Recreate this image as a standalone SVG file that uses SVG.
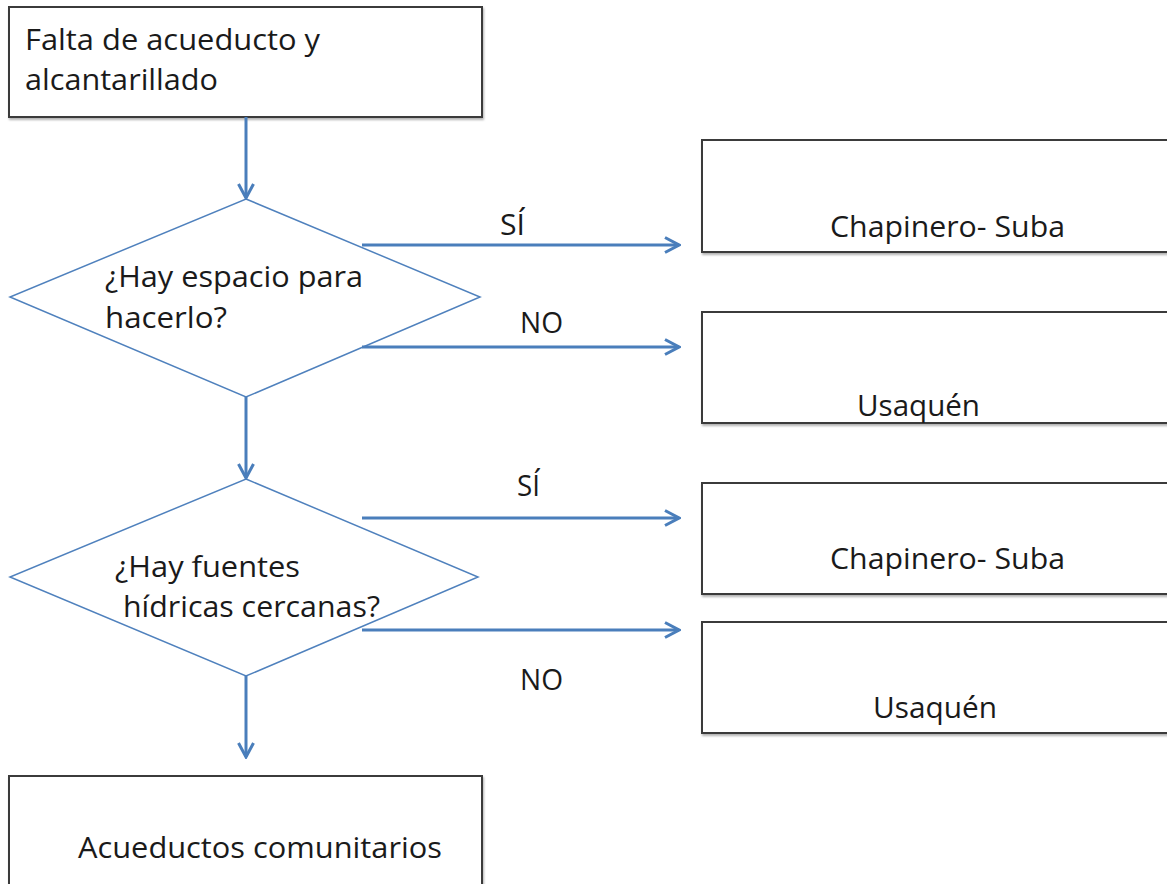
<svg xmlns="http://www.w3.org/2000/svg" width="1167" height="884" viewBox="0 0 1167 884">
<style>
.box{fill:#ffffff;stroke:#3a3a3a;stroke-width:2}
.dia{fill:#ffffff;stroke:#4f81bd;stroke-width:1.5}
.con{fill:none;stroke:#4a7ebb;stroke-width:3;marker-end:url(#arr)}
.t{font-family:"Open Sans","Noto Sans","Liberation Sans",sans-serif;font-size:29px;fill:#1a1a1a}
</style>
<defs>
<filter id="sh" x="-5%" y="-5%" width="110%" height="115%">
<feDropShadow dx="1" dy="2" stdDeviation="1.2" flood-color="#000" flood-opacity="0.3"/>
</filter>
<marker id="arr" markerUnits="userSpaceOnUse" viewBox="0 0 18 18" refX="16" refY="9" markerWidth="18" markerHeight="18" orient="auto">
<path d="M2,1.5 L16,9 L2,16.5" fill="none" stroke="#4a7ebb" stroke-width="3" stroke-linejoin="miter"/>
</marker>
</defs>
<rect width="1167" height="884" fill="#ffffff"/>

<g id="start">
<rect class="box" filter="url(#sh)" x="9" y="7" width="473" height="110"/>
<text class="t" x="25" y="50" textLength="295" lengthAdjust="spacingAndGlyphs">Falta de acueducto y</text>
<text class="t" x="25" y="90" textLength="193" lengthAdjust="spacingAndGlyphs">alcantarillado</text>
</g>

<g id="decision1">
<polygon class="dia" points="246,199 480,297 246,397 10,297"/>
<text class="t" x="105" y="287" textLength="258" lengthAdjust="spacingAndGlyphs">¿Hay espacio para</text>
<text class="t" x="105" y="328" textLength="122" lengthAdjust="spacingAndGlyphs">hacerlo?</text>
</g>

<g id="yes1">
<rect class="box" filter="url(#sh)" x="702" y="140" width="480" height="112"/>
<text class="t" x="830" y="237" textLength="235" lengthAdjust="spacingAndGlyphs">Chapinero- Suba</text>
</g>

<g id="no1">
<rect class="box" filter="url(#sh)" x="702" y="312" width="480" height="111"/>
<text class="t" x="857" y="416" textLength="123" lengthAdjust="spacingAndGlyphs">Usaquén</text>
</g>

<g id="decision2">
<polygon class="dia" points="246,479 478,577 246,676 10,577"/>
<text class="t" x="115" y="577" textLength="185" lengthAdjust="spacingAndGlyphs">¿Hay fuentes</text>
<text class="t" x="123" y="617" textLength="257" lengthAdjust="spacingAndGlyphs">hídricas cercanas?</text>
</g>

<g id="yes2">
<rect class="box" filter="url(#sh)" x="702" y="483" width="480" height="111"/>
<text class="t" x="830" y="569" textLength="235" lengthAdjust="spacingAndGlyphs">Chapinero- Suba</text>
</g>

<g id="no2">
<rect class="box" filter="url(#sh)" x="702" y="622" width="480" height="111"/>
<text class="t" x="873" y="718" textLength="124" lengthAdjust="spacingAndGlyphs">Usaquén</text>
</g>

<g id="end">
<rect class="box" filter="url(#sh)" x="9" y="776" width="473" height="130"/>
<text class="t" x="78" y="858" textLength="364" lengthAdjust="spacingAndGlyphs">Acueductos comunitarios</text>
</g>

<g id="connectors">
<line class="con" x1="246" y1="117" x2="246" y2="198"/>
<line class="con" x1="362" y1="245" x2="679" y2="245"/>
<line class="con" x1="362" y1="347" x2="679" y2="347"/>
<line class="con" x1="246" y1="397" x2="246" y2="478"/>
<line class="con" x1="362" y1="518" x2="679" y2="518"/>
<line class="con" x1="362" y1="630" x2="679" y2="630"/>
<line class="con" x1="246" y1="676" x2="246" y2="757"/>
<text class="t" x="500" y="235" textLength="25" lengthAdjust="spacingAndGlyphs">SÍ</text>
<text class="t" x="520" y="333" textLength="43" lengthAdjust="spacingAndGlyphs">NO</text>
<text class="t" x="517" y="496" textLength="23" lengthAdjust="spacingAndGlyphs">SÍ</text>
<text class="t" x="520" y="690" textLength="43" lengthAdjust="spacingAndGlyphs">NO</text>
</g>
</svg>
